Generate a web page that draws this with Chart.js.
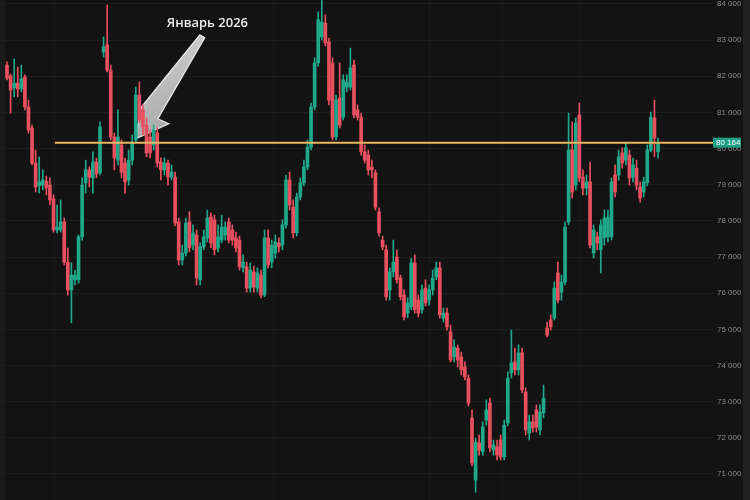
<!DOCTYPE html>
<html>
<head>
<meta charset="utf-8">
<script src="https://cdn.jsdelivr.net/npm/chart.js@4.4.1/dist/chart.umd.min.js"></script>
<style>
  html, body { margin: 0; padding: 0; background: #131313; }
  #wrap { width: 750px; height: 500px; }
</style>
</head>
<body>
<div id="wrap"><canvas id="grafico" width="750" height="500"></canvas></div>
<script>
// velas (OHLC), una por periodo
var opens = [82310,82010,81680,81810,81650,81980,81150,80570,79600,78970,78990,79100,78990,78610,77750,77750,77970,76860,76090,76370,
  76370,77560,79050,79410,79190,79630,79330,82670,82870,82170,80320,79680,80100,79600,79130,79680,80240,81480,81070,80650,
  80320,80100,80430,79630,79410,79600,79210,79210,77970,76920,77110,77970,77330,77610,76370,77280,77530,78110,78030,77250,
  77470,77610,77970,77750,77530,77470,76700,76730,76140,76590,76140,76500,75950,77530,76860,77110,77390,77330,77890,79130,
  78380,77670,78660,79050,79490,80040,81150,82370,83090,83470,82950,82370,80320,81400,80870,81700,81700,82310,81070,80870,
  79910,79820,79490,79330,78250,77470,77200,76090,76590,77000,76420,75950,75450,75620,76840,75810,75540,76140,75810,76090,
  76450,76700,75310,75450,74930,74240,74480,74240,73960,73650,72550,70830,71860,71610,72490,72960,71660,71750,71940,71470,
  72410,73790,74100,73880,74350,73270,72130,72440,72770,72220,72690,75040,75260,75310,76560,76030,76310,77970,79960,78990,
  80930,79210,78910,79080,77110,77560,77200,77530,77560,77560,79270,79270,79880,79680,79820,79210,79460,78940,78800,79050,
  79960,80850,79910];
var highs = [82400,82060,82480,82260,82310,82040,81340,80650,79960,79770,79410,79240,79190,78720,78440,78580,78080,77250,76840,76640,
  77610,79190,79680,79490,79910,79740,80740,83090,83970,82310,80430,81070,80240,79740,79960,80380,81700,81840,81210,80850,
  80510,80650,80570,79740,79740,79680,79550,79350,78080,77330,78080,78250,77890,77750,77390,77750,78300,78220,78160,77890,
  78160,77970,78080,77890,77690,77580,77060,76860,76840,76750,76700,76640,77750,77750,77470,77610,77530,78030,79270,79350,
  78580,78770,79190,79680,80240,81260,82510,83780,84100,83700,83060,82510,81480,82370,82040,82040,82780,82450,81210,80980,
  80100,79960,79680,79410,78360,77580,77330,76700,77470,77200,76500,76090,75870,76970,77060,75950,76230,76370,76230,76640,
  76860,76860,75590,75590,75120,74710,74570,74370,74100,73740,72770,71990,72080,72440,73050,73100,71940,71940,72080,72490,
  73820,74980,74480,74570,74480,73380,72630,72630,72910,72910,73460,75200,75400,76310,76860,76500,77970,80980,80740,80850,
  81260,79410,79270,79630,77890,77690,78030,78300,78300,79190,79550,79960,80020,80160,79960,79740,79680,79080,79210,80100,
  81010,81340,80290];
var lows = [81900,80980,81430,81430,81570,81070,80430,79550,78800,78770,78860,78720,78440,77690,77670,77690,76780,75950,75180,76230,
  76280,77470,78770,78940,78770,79190,79270,82530,82120,80240,79410,79550,79190,78770,78990,79550,80160,80710,80380,79770,
  79740,79960,79490,79130,79270,78990,79130,77860,76780,76780,77030,77140,77200,76230,76230,77200,77420,77250,77060,77140,
  77390,77470,77390,77330,77140,76640,76590,76030,76030,76030,76030,75870,75900,76700,76700,76970,77140,77200,77800,78300,
  77530,77580,78580,78970,79410,79960,81070,82280,83000,82840,81210,80240,80240,80570,80790,81570,81620,80850,80790,79820,
  79600,79270,79190,78300,77580,77200,75810,75810,76450,76280,75810,75260,75320,75540,75450,75340,75450,75650,75670,75950,
  76370,75310,75200,74980,74100,74100,73960,73740,73600,72880,71220,70500,71520,71520,72350,71610,71520,71390,71390,71390,
  72330,73650,73740,73740,73240,72080,71940,72160,72160,72080,72550,74790,74980,75260,75730,75810,76230,77890,78630,78860,
  79080,78720,78720,77250,76970,77200,76560,77330,77420,77470,78660,79130,79460,79550,78990,79080,78860,78520,78660,78970,
  79910,79770,79740];
var closes = [81950,81620,81810,81650,81930,81150,80510,79600,78940,79080,79130,78910,78580,77750,77830,77970,76860,76090,76500,76500,
  77560,78990,79410,79210,79630,79300,80600,82810,82170,80320,79740,80320,79350,79080,79680,80180,81480,80790,80600,79880,
  79880,80510,79600,79410,79600,79210,79350,77940,76920,77110,77940,77250,77670,76420,77280,77560,78080,77390,77200,77560,
  77830,77830,77470,77470,77250,76730,76860,76140,76640,76170,76560,75950,77530,76780,77330,77420,77280,77890,79130,78440,
  77670,78660,79050,79490,80040,81150,82370,83560,83500,82920,81340,80320,81340,80650,81900,81840,82230,80930,80870,79910,
  79680,79410,79410,78380,77670,77280,75900,76590,76860,76370,75900,75340,75730,76840,75540,75450,76090,75730,76090,76420,
  76700,75400,75450,75070,74150,74510,74150,73880,73680,72960,71300,71880,71660,72300,72770,71720,71800,71520,71470,72350,
  73650,74070,73880,74350,73320,72220,72440,72270,72300,72710,73100,74840,75070,76140,75810,76310,77830,79960,78800,80710,
  79190,78910,79080,77330,77750,77390,77890,78080,78110,79080,78800,79770,79600,80020,79190,79550,78990,78630,79080,79960,
  80870,80290,80164];

// escala de precios
var yTicks = [71000, 72000, 73000, 74000, 75000, 76000, 77000, 78000, 79000, 80000, 81000, 82000, 83000, 84000];

// nivel horizontal y anotacion
var levelPrice = 80164;
var levelStart = 13.4;          // vela donde empieza la linea
var vLines = [13.4, 74.4, 118, 138.4, 160.2];
var noteText = 'Январь 2026';
var noteIndex = 36;
var notePrice = 80270;

var yMin = 70280, yMax = 84110;
var xMin = -1.96, xMax = 197.37;

var verde = '#1fa88a';
var rojo = '#e8505f';

var cuerpos = [], mechas = [], colores = [];
for (var i = 0; i < closes.length; i++) {
  cuerpos.push({x: i, y: [opens[i], closes[i]]});
  mechas.push({x: i, y: [lows[i], highs[i]]});
  colores.push(closes[i] >= opens[i] ? verde : rojo);
}

function fmt(v) {
  var miles = Math.floor(v / 1000);
  var resto = String(Math.round(v % 1000)).padStart(3, '0');
  return miles + ' ' + resto;
}

var fondo = {
  id: 'fondo',
  beforeDraw: function(chart) {
    var ctx = chart.ctx;
    ctx.save();
    ctx.fillStyle = '#131313';
    ctx.fillRect(0, 0, chart.width, chart.height);
    ctx.fillStyle = '#1b1b1b';
    ctx.fillRect(0, 0, 5, chart.height);
    ctx.fillStyle = '#222222';
    ctx.fillRect(743, 0, 7, chart.height);
    ctx.restore();
  }
};

// flecha gris con el texto
var flecha = {
  id: 'flecha',
  beforeDatasetsDraw: function(chart) {
    var ctx = chart.ctx;
    var tx = chart.scales.x.getPixelForValue(noteIndex);
    var ty = chart.scales.y.getPixelForValue(notePrice);
    ctx.save();
    var g = ctx.createLinearGradient(tx, ty - 104, tx + 30, ty);
    g.addColorStop(0, '#e2e2e2');
    g.addColorStop(1, '#b4b4b4');
    ctx.beginPath();
    ctx.moveTo(tx + 64, ty - 104);
    ctx.lineTo(tx + 5, ty - 31);
    ctx.lineTo(tx, ty);
    ctx.lineTo(tx + 33, ty - 15);
    ctx.lineTo(tx + 22, ty - 20);
    ctx.lineTo(tx + 69, ty - 101);
    ctx.closePath();
    ctx.globalAlpha = 0.92;
    ctx.fillStyle = g;
    ctx.fill();
    ctx.lineWidth = 1.2;
    ctx.strokeStyle = '#f2f2f2';
    ctx.stroke();
    ctx.globalAlpha = 1;
    ctx.font = '600 13px "Open Sans"';
    ctx.fillStyle = '#ececec';
    ctx.textBaseline = 'alphabetic';
    ctx.fillText(noteText, tx + 31, ty - 112);
    ctx.restore();
  }
};

// etiqueta verde del precio
var etiqueta = {
  id: 'etiqueta',
  afterDraw: function(chart) {
    var ctx = chart.ctx;
    var a = chart.chartArea;
    var y = chart.scales.y.getPixelForValue(levelPrice);
    ctx.save();
    ctx.fillStyle = '#1f9f87';
    ctx.fillRect(a.right, y - 5, 28, 10);
    ctx.fillStyle = '#ffffff';
    ctx.font = '8px "Liberation Sans"';
    ctx.textBaseline = 'middle';
    ctx.fillText(fmt(levelPrice), a.right + 3, y + 0.5);
    ctx.restore();
  }
};

var ctx = document.getElementById('grafico');
new Chart(ctx, {
  type: 'bar',
  data: {
    datasets: [{
      type: 'line',
      data: [{x: levelStart, y: levelPrice}, {x: xMax, y: levelPrice}],
      borderColor: '#e8b661',
      borderWidth: 2,
      pointRadius: 0,
      order: 0
    }, {
      data: cuerpos,
      backgroundColor: colores,
      barThickness: 3,
      minBarLength: 1,
      grouped: false,
      order: 1
    }, {
      data: mechas,
      backgroundColor: colores,
      barThickness: 1,
      grouped: false,
      order: 2
    }]
  },
  options: {
    responsive: false,
    animation: false,
    devicePixelRatio: 1,
    layout: { padding: 0 },
    plugins: { legend: { display: false }, tooltip: { enabled: false } },
    scales: {
      x: {
        type: 'linear',
        min: xMin,
        max: xMax,
        offset: false,
        ticks: { display: false },
        grid: { color: '#1a1a1a', drawTicks: false, offset: false },
        border: { display: false },
        afterBuildTicks: function(s) {
          s.ticks = vLines.map(function(v) { return {value: v}; });
        },
        afterFit: function(s) { s.height = 0; s.paddingLeft = 0; s.paddingRight = 0; }
      },
      y: {
        position: 'right',
        min: yMin,
        max: yMax,
        ticks: {
          color: '#8a8a8a',
          padding: 4,
          font: { size: 8, family: 'Liberation Sans' },
          callback: function(v) { return fmt(v); }
        },
        afterBuildTicks: function(s) {
          s.ticks = yTicks.map(function(v) { return {value: v}; });
        },
        grid: { color: '#1d1d1d', drawTicks: false },
        border: { display: false },
        afterFit: function(s) { s.width = 37; s.paddingTop = 0; s.paddingBottom = 0; }
      }
    }
  },
  plugins: [fondo, flecha, etiqueta]
});
</script>
</body>
</html>
